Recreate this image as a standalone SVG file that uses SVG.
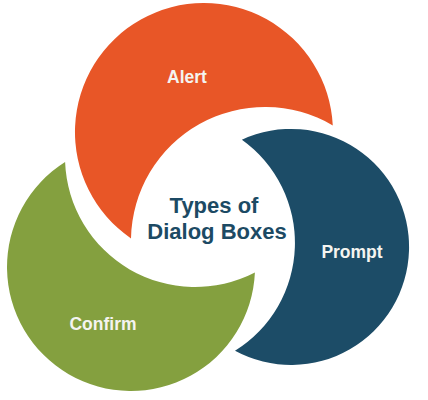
<svg xmlns="http://www.w3.org/2000/svg" width="428" height="400" viewBox="0 0 428 400">
  <style>
    .label { font-family: "Liberation Sans", Arial, sans-serif; font-weight: bold; font-size: 17.5px; fill: #f4f4f0; text-anchor: middle; }
    .title { font-family: "Liberation Sans", Arial, sans-serif; font-weight: bold; font-size: 22px; fill: #1c4a64; text-anchor: middle; }
  </style>
  <rect width="428" height="400" fill="#ffffff"/>

  <!-- Each crescent: outer circle minus an offset circular bite -->
  <g id="alert">
    <path d="M332.8,125.4 A129,129 0 1 0 131.0,238.4 A134,134 0 0 1 332.8,125.4 Z" fill="#e85627"/>
    <text class="label" x="187" y="83">Alert</text>
  </g>

  <g id="prompt">
    <path d="M241.9,139.7 A118,118 0 1 1 235.0,350.8 A127,127 0 0 0 241.9,139.7 Z" fill="#1c4c67"/>
    <text class="label" x="352" y="258">Prompt</text>
  </g>

  <g id="confirm">
    <path d="M65.1,162.0 A124,124 0 1 0 254.9,272.4 A130,130 0 0 1 65.1,162.0 Z" fill="#84a03f"/>
    <text class="label" x="103" y="330">Confirm</text>
  </g>

  <g id="center">
    <text class="title" x="214" y="213">Types of</text>
    <text class="title" x="217" y="239">Dialog Boxes</text>
  </g>

  <g id="connectors"/>
</svg>
